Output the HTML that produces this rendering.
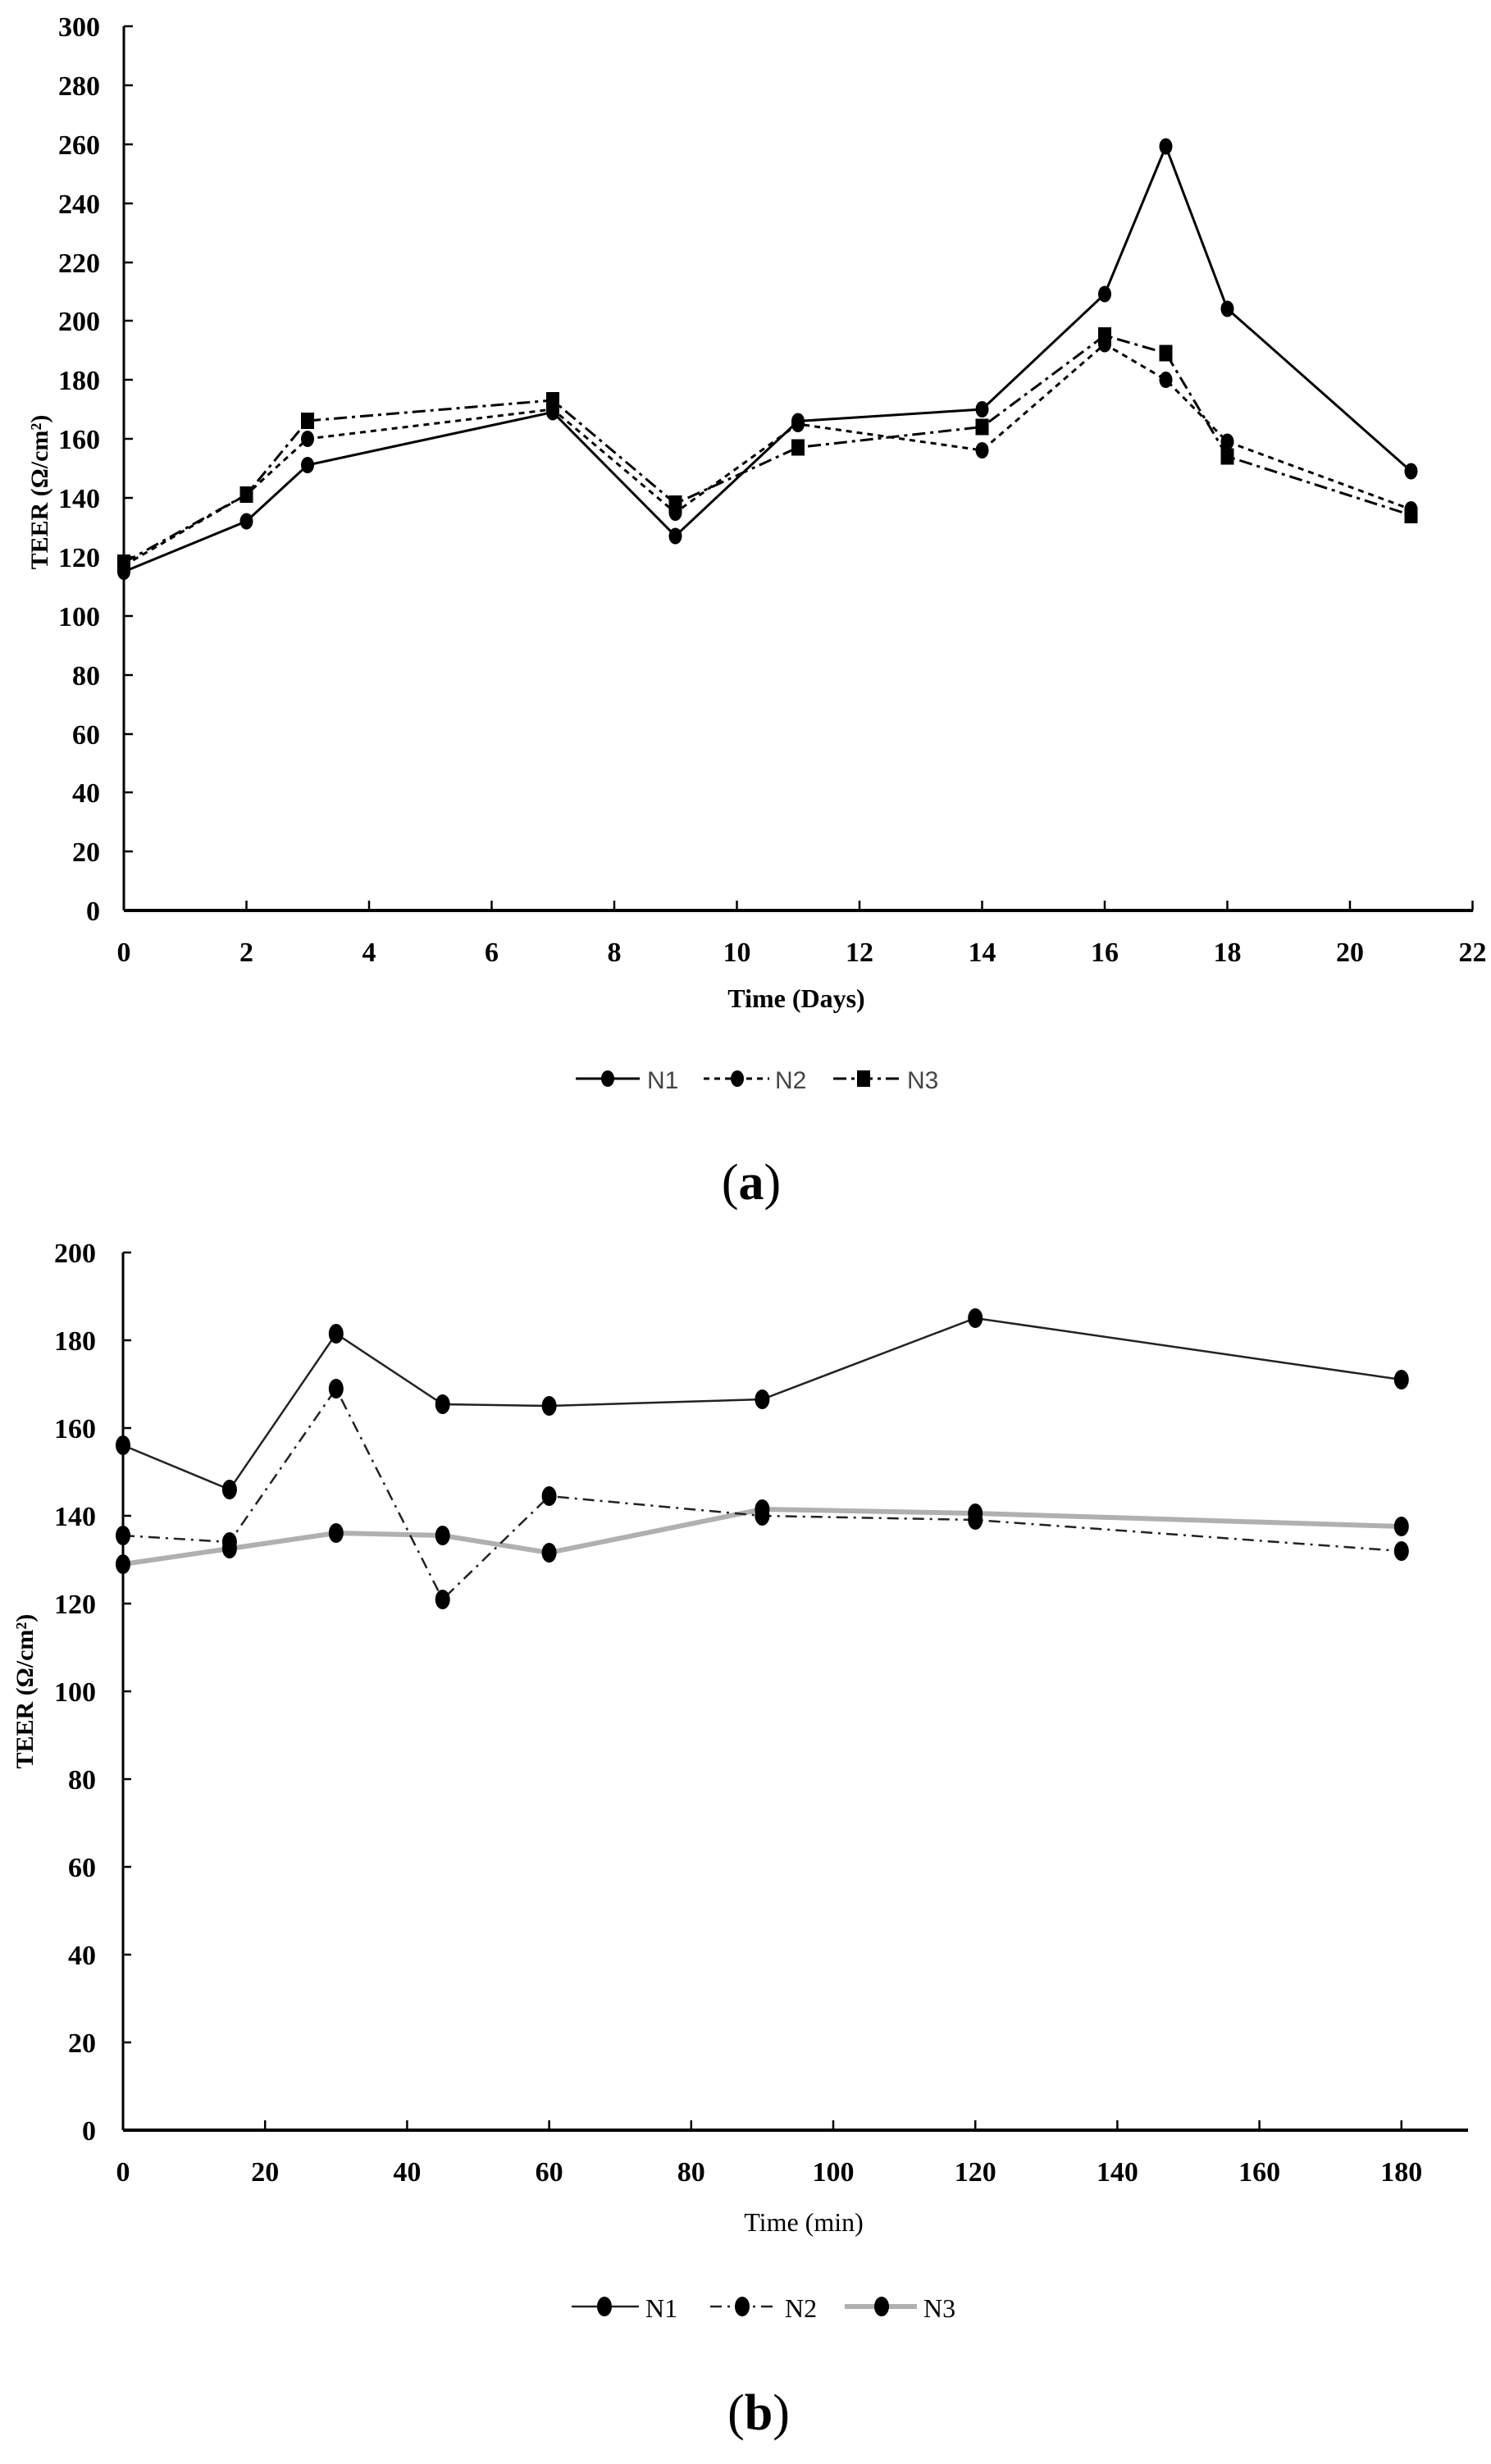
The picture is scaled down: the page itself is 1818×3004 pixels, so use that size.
<!DOCTYPE html>
<html><head><meta charset="utf-8"><style>
html,body{margin:0;padding:0;background:#fff;}
svg{display:block;}
text{font-family:"Liberation Serif","DejaVu Serif",serif;}
</style></head><body>
<svg width="1818" height="3004" viewBox="0 0 1818 3004" xmlns="http://www.w3.org/2000/svg">
<!-- Chart A -->
<g id="a">
<line x1="151" y1="32" x2="151" y2="1110" stroke="#000" stroke-width="3"/>
<line x1="151" y1="1110" x2="1796" y2="1110" stroke="#000" stroke-width="4"/>
<g stroke="#000" stroke-width="2.5">
<line x1="151" y1="32" x2="162" y2="32"/><line x1="151" y1="104" x2="162" y2="104"/><line x1="151" y1="176" x2="162" y2="176"/><line x1="151" y1="248" x2="162" y2="248"/><line x1="151" y1="320" x2="162" y2="320"/><line x1="151" y1="391" x2="162" y2="391"/><line x1="151" y1="463" x2="162" y2="463"/><line x1="151" y1="535" x2="162" y2="535"/><line x1="151" y1="607" x2="162" y2="607"/><line x1="151" y1="679" x2="162" y2="679"/><line x1="151" y1="751" x2="162" y2="751"/><line x1="151" y1="823" x2="162" y2="823"/><line x1="151" y1="895" x2="162" y2="895"/><line x1="151" y1="966" x2="162" y2="966"/><line x1="151" y1="1038" x2="162" y2="1038"/>
<line x1="300.5" y1="1098" x2="300.5" y2="1110"/><line x1="450" y1="1098" x2="450" y2="1110"/><line x1="599.5" y1="1098" x2="599.5" y2="1110"/><line x1="749" y1="1098" x2="749" y2="1110"/><line x1="898.5" y1="1098" x2="898.5" y2="1110"/><line x1="1048" y1="1098" x2="1048" y2="1110"/><line x1="1197.5" y1="1098" x2="1197.5" y2="1110"/><line x1="1347" y1="1098" x2="1347" y2="1110"/><line x1="1496.5" y1="1098" x2="1496.5" y2="1110"/><line x1="1646" y1="1098" x2="1646" y2="1110"/><line x1="1795.5" y1="1098" x2="1795.5" y2="1110"/>
</g>
<g font-size="34" font-weight="bold" text-anchor="end">
<text x="122" y="44">300</text><text x="122" y="116">280</text><text x="122" y="188">260</text><text x="122" y="260">240</text><text x="122" y="332">220</text><text x="122" y="403">200</text><text x="122" y="475">180</text><text x="122" y="547">160</text><text x="122" y="619">140</text><text x="122" y="691">120</text><text x="122" y="763">100</text><text x="122" y="835">80</text><text x="122" y="907">60</text><text x="122" y="978">40</text><text x="122" y="1050">20</text><text x="122" y="1122">0</text>
</g>
<g font-size="34" font-weight="bold" text-anchor="middle">
<text x="151" y="1172">0</text><text x="300.5" y="1172">2</text><text x="450" y="1172">4</text><text x="599.5" y="1172">6</text><text x="749" y="1172">8</text><text x="898.5" y="1172">10</text><text x="1048" y="1172">12</text><text x="1197.5" y="1172">14</text><text x="1347" y="1172">16</text><text x="1496.5" y="1172">18</text><text x="1646" y="1172">20</text><text x="1795.5" y="1172">22</text>
</g>
<text x="971" y="1228" font-size="32" font-weight="bold" text-anchor="middle">Time (Days)</text>
<text transform="translate(58,600) rotate(-90)" font-size="30" font-weight="bold" text-anchor="middle">TEER (Ω/cm²)</text>
<polyline fill="none" stroke="#000" stroke-width="3" points="151,697 300.5,635.5 375,567 674,502.5 823.5,653.5 973,513.5 1197.5,499 1347,358.5 1421.5,178.5 1496.5,376.5 1720.5,574.5"/>
<polyline fill="none" stroke="#000" stroke-width="3" stroke-dasharray="7,6" points="151,689.5 300.5,603 375,535 674,499 823.5,625 973,517 1197.5,549 1347,419.5 1421.5,463 1496.5,538.5 1720.5,621"/>
<polyline fill="none" stroke="#000" stroke-width="3" stroke-dasharray="16,6,4,6" points="151,686 300.5,603 375,513 674,488 823.5,614 973,545.5 1197.5,520.5 1347,409 1421.5,430.5 1496.5,556.5 1720.5,628"/>
<g fill="#000">
<ellipse cx="151" cy="697" rx="8" ry="10"/><ellipse cx="300.5" cy="635.5" rx="8" ry="10"/><ellipse cx="375" cy="567" rx="8" ry="10"/><ellipse cx="674" cy="502.5" rx="8" ry="10"/><ellipse cx="823.5" cy="653.5" rx="8" ry="10"/><ellipse cx="973" cy="513.5" rx="8" ry="10"/><ellipse cx="1197.5" cy="499" rx="8" ry="10"/><ellipse cx="1347" cy="358.5" rx="8" ry="10"/><ellipse cx="1421.5" cy="178.5" rx="8" ry="10"/><ellipse cx="1496.5" cy="376.5" rx="8" ry="10"/><ellipse cx="1720.5" cy="574.5" rx="8" ry="10"/>
<ellipse cx="151" cy="689.5" rx="8" ry="10"/><ellipse cx="300.5" cy="603" rx="8" ry="10"/><ellipse cx="375" cy="535" rx="8" ry="10"/><ellipse cx="674" cy="499" rx="8" ry="10"/><ellipse cx="823.5" cy="625" rx="8" ry="10"/><ellipse cx="973" cy="517" rx="8" ry="10"/><ellipse cx="1197.5" cy="549" rx="8" ry="10"/><ellipse cx="1347" cy="419.5" rx="8" ry="10"/><ellipse cx="1421.5" cy="463" rx="8" ry="10"/><ellipse cx="1496.5" cy="538.5" rx="8" ry="10"/><ellipse cx="1720.5" cy="621" rx="8" ry="10"/>
<rect x="143" y="676" width="16" height="20"/><rect x="292.5" y="593" width="16" height="20"/><rect x="367" y="503" width="16" height="20"/><rect x="666" y="478" width="16" height="20"/><rect x="815.5" y="604" width="16" height="20"/><rect x="965" y="535.5" width="16" height="20"/><rect x="1189.5" y="510.5" width="16" height="20"/><rect x="1339" y="399" width="16" height="20"/><rect x="1413.5" y="420.5" width="16" height="20"/><rect x="1488.5" y="546.5" width="16" height="20"/><rect x="1712.5" y="618" width="16" height="20"/>
</g>
<line x1="702" y1="1315" x2="780" y2="1315" stroke="#000" stroke-width="3"/>
<ellipse cx="741" cy="1315" rx="8" ry="10"/>
<text x="789" y="1327" font-size="30" fill="#444" style="font-family:'Liberation Sans',sans-serif">N1</text>
<line x1="858" y1="1315" x2="938" y2="1315" stroke="#000" stroke-width="3" stroke-dasharray="7,6"/>
<ellipse cx="899" cy="1315" rx="8" ry="10"/>
<text x="945" y="1327" font-size="30" fill="#444" style="font-family:'Liberation Sans',sans-serif">N2</text>
<line x1="1016" y1="1315" x2="1098" y2="1315" stroke="#000" stroke-width="3" stroke-dasharray="16,6,4,6"/>
<rect x="1045" y="1305" width="16" height="20"/>
<text x="1106" y="1327" font-size="30" fill="#444" style="font-family:'Liberation Sans',sans-serif">N3</text>
<text x="916" y="1462" font-size="62" text-anchor="middle">(<tspan font-weight="bold">a</tspan>)</text>
</g>

<!-- Chart B -->
<g id="b">
<line x1="150" y1="1527" x2="150" y2="2597" stroke="#000" stroke-width="3"/>
<line x1="150" y1="2597" x2="1790" y2="2597" stroke="#000" stroke-width="4"/>
<g stroke="#000" stroke-width="2.5">
<line x1="150" y1="1527" x2="160" y2="1527"/><line x1="150" y1="1634" x2="160" y2="1634"/><line x1="150" y1="1741" x2="160" y2="1741"/><line x1="150" y1="1848" x2="160" y2="1848"/><line x1="150" y1="1955" x2="160" y2="1955"/><line x1="150" y1="2062" x2="160" y2="2062"/><line x1="150" y1="2169" x2="160" y2="2169"/><line x1="150" y1="2276" x2="160" y2="2276"/><line x1="150" y1="2383" x2="160" y2="2383"/><line x1="150" y1="2490" x2="160" y2="2490"/>
<line x1="323.2" y1="2585" x2="323.2" y2="2597"/><line x1="496.4" y1="2585" x2="496.4" y2="2597"/><line x1="669.6" y1="2585" x2="669.6" y2="2597"/><line x1="842.8" y1="2585" x2="842.8" y2="2597"/><line x1="1016" y1="2585" x2="1016" y2="2597"/><line x1="1189.2" y1="2585" x2="1189.2" y2="2597"/><line x1="1362.4" y1="2585" x2="1362.4" y2="2597"/><line x1="1535.6" y1="2585" x2="1535.6" y2="2597"/><line x1="1708.8" y1="2585" x2="1708.8" y2="2597"/>
</g>
<g font-size="34" font-weight="bold" text-anchor="end">
<text x="117" y="1539">200</text><text x="117" y="1646">180</text><text x="117" y="1753">160</text><text x="117" y="1860">140</text><text x="117" y="1967">120</text><text x="117" y="2074">100</text><text x="117" y="2181">80</text><text x="117" y="2288">60</text><text x="117" y="2395">40</text><text x="117" y="2502">20</text><text x="117" y="2609">0</text>
</g>
<g font-size="34" font-weight="bold" text-anchor="middle">
<text x="150" y="2659">0</text><text x="323.2" y="2659">20</text><text x="496.4" y="2659">40</text><text x="669.6" y="2659">60</text><text x="842.8" y="2659">80</text><text x="1016" y="2659">100</text><text x="1189.2" y="2659">120</text><text x="1362.4" y="2659">140</text><text x="1535.6" y="2659">160</text><text x="1708.8" y="2659">180</text>
</g>
<text x="980" y="2720" font-size="32" text-anchor="middle">Time (min)</text>
<text transform="translate(40,2062) rotate(-90)" font-size="30" font-weight="bold" text-anchor="middle">TEER (Ω/cm²)</text>
<polyline fill="none" stroke="#b0b0b0" stroke-width="6" points="150,1907 279.9,1888 409.8,1869 539.7,1872 669.6,1893 929.4,1840 1189.2,1845 1708.8,1861"/>
<polyline fill="none" stroke="#222" stroke-width="2.5" points="150,1762 279.9,1816 409.8,1626 539.7,1712 669.6,1714 929.4,1706 1189.2,1607 1708.8,1682"/>
<polyline fill="none" stroke="#222" stroke-width="2.5" stroke-dasharray="14,7,3,7" points="150,1872 279.9,1880 409.8,1693 539.7,1950 669.6,1824 929.4,1848 1189.2,1853 1708.8,1891"/>
<g fill="#000">
<ellipse cx="150" cy="1762" rx="9" ry="12"/><ellipse cx="279.9" cy="1816" rx="9" ry="12"/><ellipse cx="409.8" cy="1626" rx="9" ry="12"/><ellipse cx="539.7" cy="1712" rx="9" ry="12"/><ellipse cx="669.6" cy="1714" rx="9" ry="12"/><ellipse cx="929.4" cy="1706" rx="9" ry="12"/><ellipse cx="1189.2" cy="1607" rx="9" ry="12"/><ellipse cx="1708.8" cy="1682" rx="9" ry="12"/>
<ellipse cx="150" cy="1872" rx="9" ry="12"/><ellipse cx="279.9" cy="1880" rx="9" ry="12"/><ellipse cx="409.8" cy="1693" rx="9" ry="12"/><ellipse cx="539.7" cy="1950" rx="9" ry="12"/><ellipse cx="669.6" cy="1824" rx="9" ry="12"/><ellipse cx="929.4" cy="1848" rx="9" ry="12"/><ellipse cx="1189.2" cy="1853" rx="9" ry="12"/><ellipse cx="1708.8" cy="1891" rx="9" ry="12"/>
<ellipse cx="150" cy="1907" rx="9" ry="12"/><ellipse cx="279.9" cy="1888" rx="9" ry="12"/><ellipse cx="409.8" cy="1869" rx="9" ry="12"/><ellipse cx="539.7" cy="1872" rx="9" ry="12"/><ellipse cx="669.6" cy="1893" rx="9" ry="12"/><ellipse cx="929.4" cy="1840" rx="9" ry="12"/><ellipse cx="1189.2" cy="1845" rx="9" ry="12"/><ellipse cx="1708.8" cy="1861" rx="9" ry="12"/>
</g>
<line x1="697" y1="2812" x2="779" y2="2812" stroke="#222" stroke-width="2.5"/>
<ellipse cx="737" cy="2812" rx="9" ry="12"/>
<text x="787" y="2825" font-size="32">N1</text>
<line x1="866" y1="2812" x2="948" y2="2812" stroke="#222" stroke-width="2.5" stroke-dasharray="14,7,3,7"/>
<ellipse cx="905" cy="2812" rx="9" ry="12"/>
<text x="957" y="2825" font-size="32">N2</text>
<line x1="1030" y1="2812" x2="1118" y2="2812" stroke="#b0b0b0" stroke-width="6"/>
<ellipse cx="1075" cy="2812" rx="9" ry="12"/>
<text x="1126" y="2825" font-size="32">N3</text>
<text x="925" y="2962" font-size="62" text-anchor="middle">(<tspan font-weight="bold">b</tspan>)</text>
</g>
</svg>
</body></html>
